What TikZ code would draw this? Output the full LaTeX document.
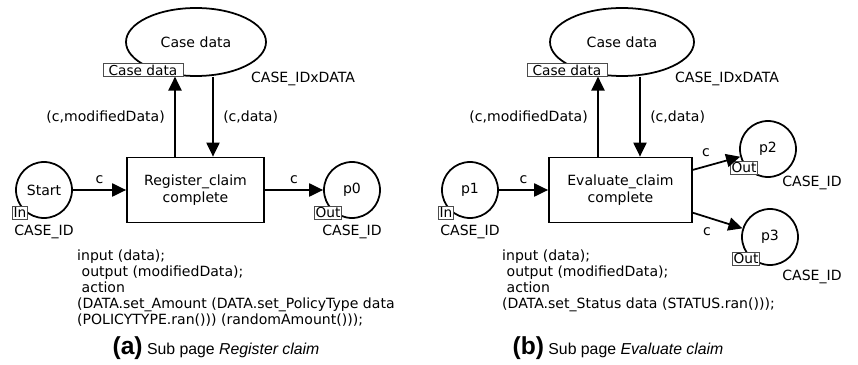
\documentclass[tikz,border=0pt]{standalone}
\usepackage{fontspec}
\setmainfont{DejaVu Sans}
\newfontfamily\capfont{Liberation Sans}
\usetikzlibrary{arrows.meta,positioning,shapes.geometric}

\begin{document}
\begin{tikzpicture}[
      myplace/.style={
         circle,
         draw=black,
         line width=1pt,
         inner sep=0pt,
         minimum size=1.12cm,
         font=\fontsize{8}{9}\selectfont},
      mydata/.style={
         ellipse,
         draw=black,
         line width=1pt,
         minimum width=2.8cm,
         minimum height=1.36cm,
         font=\fontsize{8}{9}\selectfont},
      mytrans/.style={
         rectangle,
         draw=black,
         line width=1pt,
         minimum height=1.3cm,
         align=center,
         font=\fontsize{8}{9.4}\selectfont},
      mytag/.style={
         rectangle,
         draw=black!70,
         fill=white,
         line width=0.4pt,
         inner sep=0.5pt,
         minimum height=0.25cm,
         font=\fontsize{7.8}{8}\selectfont},
      mytext/.style={
         font=\fontsize{8}{9}\selectfont},
      mycode/.style={
         anchor=north west,
         align=left,
         font=\fontsize{8}{9.1}\selectfont},
      mycap/.style={
         font=\capfont\fontsize{9}{11}\selectfont},
      myarrow/.style={-{Triangle[length=8pt,width=7.5pt]},line width=1pt}
      ]
      \useasboundingbox (0,0) rectangle (17.16,7.3);
      % (a) Register claim
      \node[mydata] (cd1) at (3.92,6.46) {Case data};
      \node[mytag,minimum width=1.6cm] (tag1) at (2.86,5.9) {Case data};
      \node[mytext] (idx1) at (6.06,5.72) {CASE\_IDxDATA};
      \node[mytrans,minimum width=2.74cm] (trans1) at (3.91,3.5) {Register\_claim\\complete};
      \node[myplace] (start) at (0.88,3.5) {Start};
      \node[mytag] (in1) at (0.4,3.04) {In};
      \node[mytext] (cid1) at (0.88,2.66) {CASE\_ID};
      \node[myplace] (p0) at (7.04,3.5) {p0};
      \node[mytag] (out0) at (6.56,3.04) {Out};
      \node[mytext] (cid0) at (7.04,2.66) {CASE\_ID};
      \coordinate (up1) at (3.5,4.5);
      \coordinate (dn1) at (4.26,4.5);
      \node[mycode] (code1) at (1.42,2.42) {input (data);\\
        ~output (modifiedData);\\
        ~action\\
        (DATA.set\_Amount (DATA.set\_PolicyType data\\
        (POLICYTYPE.ran())) (randomAmount()));};
      \node[mycap] (cap1) at (4.32,0.34) {{\fontsize{14}{14}\selectfont\bfseries (a)} Sub page \textit{Register claim}};
      % (b) Evaluate claim
      \node[mydata,minimum width=2.88cm] (cd2) at (12.44,6.46) {Case data};
      \node[mytag,minimum width=1.6cm] (tag2) at (11.34,5.9) {Case data};
      \node[mytext] (idx2) at (14.54,5.72) {CASE\_IDxDATA};
      \node[mytrans,minimum width=2.86cm] (trans2) at (12.41,3.5) {Evaluate\_claim\\complete};
      \node[myplace] (p1) at (9.4,3.5) {p1};
      \node[mytag] (in2) at (8.92,3.04) {In};
      \node[mytext] (cid2) at (9.4,2.66) {CASE\_ID};
      \node[myplace] (p2) at (15.36,4.32) {p2};
      \node[mytag] (out2) at (14.88,3.94) {Out};
      \node[mytext] (cid3) at (16.24,3.64) {CASE\_ID};
      \node[myplace] (p3) at (15.4,2.56) {p3};
      \node[mytag] (out3) at (14.92,2.12) {Out};
      \node[mytext] (cid4) at (16.24,1.76) {CASE\_ID};
      \coordinate (up2) at (11.96,4.5);
      \coordinate (dn2) at (12.8,4.5);
      \node[mycode] (code2) at (9.92,2.42) {input (data);\\
        ~output (modifiedData);\\
        ~action\\
        (DATA.set\_Status data (STATUS.ran()));};
      \node[mycap] (cap2) at (12.36,0.34) {{\fontsize{14}{14}\selectfont\bfseries (b)} Sub page \textit{Evaluate claim}};
    \foreach \i/\j/\txt/\p in {
      start/trans1/c/above,
      trans1/p0/c/above,
      p1/trans2/c/above,
      trans2/p2/c/above left,
      trans2/p3/c/below left}
       \draw [myarrow] (\i) -- node[mytext,\p] {\txt} (\j);
    \foreach \u/\d/\t/\c/\e in {up1/dn1/trans1/cd1/tag1, up2/dn2/trans2/cd2/tag2} {
       \draw [myarrow] (\u |- \t.north) -- node[mytext,left=2pt] {(c,modifiedData)} (\u |- \e.south);
       \draw [myarrow] (\d |- \c.south) -- node[mytext,right=2pt] {(c,data)} (\d |- \t.north);
    }
\end{tikzpicture}
\end{document}
